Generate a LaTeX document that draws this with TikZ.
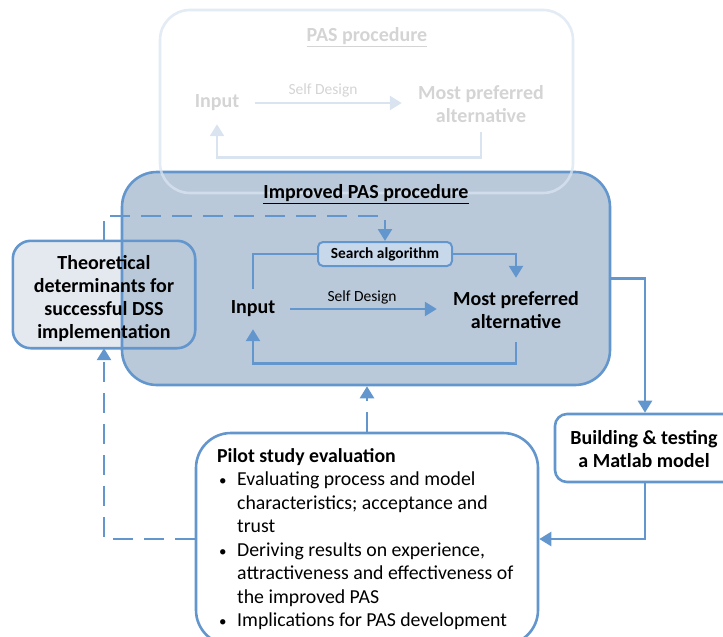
\documentclass[tikz,border=0pt]{standalone}
\usepackage{fontspec}
\setmainfont{Carlito}
\usetikzlibrary{arrows.meta,calc}

\definecolor{lineblue}{RGB}{99,150,205}
\definecolor{panelfill}{RGB}{185,201,218}
\definecolor{sidefill}{RGB}{228,233,239}
\definecolor{searchfill}{RGB}{200,216,235}
\definecolor{fadeline}{RGB}{218,228,240}
\definecolor{fadetext}{RGB}{212,212,212}

\newcommand{\ulbox}[1]{\underline{#1}}

\tikzset{
  conn/.style={draw=lineblue, line width=2.6pt},
  arr/.style={conn, -{Triangle[width=14pt,length=12pt]}},
  dasharr/.style={arr, dash pattern=on 20pt off 11pt},
  fadearr/.style={draw=fadeline, line width=2.6pt, -{Triangle[width=14pt,length=12pt]}},
  boxline/.style={draw=lineblue, line width=2.6pt},
  lbl/.style={inner sep=0pt, align=center, font=\fontsize{20}{23}\selectfont\bfseries},
  small/.style={inner sep=0pt, font=\fontsize{15.5}{17}\selectfont},
}

\begin{document}
\begin{tikzpicture}[x=1pt,y=-1pt]
\useasboundingbox (0,0) rectangle (723,637);
\clip (0,0) rectangle (723,637);

% side box with the theoretical determinants (fill first, border later)
\node[fill=sidefill, rounded corners=18pt, minimum width=182pt, minimum height=107pt,
      inner sep=0pt] (theory) at (104,294.5) {};

% improved procedure panel
\node[fill=panelfill, boxline, rounded corners=35pt, minimum width=488pt,
      minimum height=213pt, inner sep=0pt] (improved) at (366,278.5) {};
\draw[boxline, rounded corners=18pt] (theory.south west) rectangle (theory.north east);

% original procedure, faded, on top
\node[draw=fadeline, draw opacity=0.75, line width=2.6pt, rounded corners=30pt,
      minimum width=413pt, minimum height=183pt, inner sep=0pt] (oldbox) at (366.5,101.5) {};
\node[lbl, text=fadetext] (oldtitle) at (367,37) {\ulbox{PAS procedure}};
\node[lbl, text=fadetext, minimum width=76pt, minimum height=42pt] (oldin) at (217,103) {Input};
\node[lbl, text=fadetext, minimum width=158pt, minimum height=56pt] (oldmost) at (481,104)
      {Most preferred\\alternative};
\node[small, text=fadetext] (oldself) at (323,90) {Self Design};
\draw[fadearr] (oldin.east) -- (oldin.east -| oldmost.west);
\draw[fadearr] (oldmost.south) -- ++(0,25) -| (oldin.south);

% improved procedure content
\node[lbl] (imptitle) at (366,194) {\ulbox{Improved PAS procedure}};
\node[fill=searchfill, boxline, line width=2pt, rounded corners=5pt, minimum width=134pt,
      minimum height=24pt, inner sep=0pt, font=\fontsize{15.4}{17}\selectfont\bfseries]
      (search) at (385,254) {Search algorithm};
\node[lbl, minimum width=74pt, minimum height=40pt] (inp) at (253,309) {Input};
\node[lbl, minimum width=158pt, minimum height=64pt] (most) at (516,310)
      {Most preferred\\alternative};
\node[small] (selfd) at (362,297) {Self Design};
\draw[arr] (inp.east) -- (inp.east -| most.west);
\draw[conn] (inp.north) |- (search.west);
\draw[arr] (search.east) -| (most.north);
\draw[arr] (most.south) -- ++(0,21) -| (inp.south);

% side box text
\node[lbl] (theorytext) at (104,299) {Theoretical\\determinants for\\successful DSS\\implementation};

% model building box
\node[fill=white, boxline, rounded corners=12pt, minimum width=180pt, minimum height=68pt,
      inner sep=0pt] (matlab) at (645,448) {};
\node[lbl] (matlabtext) at (644,449) {Building \& testing\\a Matlab model};

% evaluation box
\node[fill=white, boxline, rounded corners=35pt, minimum width=342pt, minimum height=212pt,
      inner sep=0pt] (pilot) at (367,539) {};
\node[anchor=north west, align=left, inner sep=0pt, font=\fontsize{19.8}{23.5}\selectfont]
      (pilottext) at (217,448) {%
  \textbf{Pilot study evaluation}\\
  \makebox[20pt][l]{\hspace*{2pt}\fontsize{15}{15}\selectfont\textbullet}Evaluating process and model\\
  \hspace*{20pt}characteristics; acceptance and\\
  \hspace*{20pt}trust\\
  \makebox[20pt][l]{\hspace*{2pt}\fontsize{15}{15}\selectfont\textbullet}Deriving results on experience,\\
  \hspace*{20pt}attractiveness and effectiveness of\\
  \hspace*{20pt}the improved PAS\\
  \makebox[20pt][l]{\hspace*{2pt}\fontsize{15}{15}\selectfont\textbullet}Implications for PAS development};

% connectors between the boxes
\draw[dasharr] (theory.north) -- ++(0,-25) -| (search.north);
\draw[arr] (improved.east) -| (matlab.north);
\draw[arr] (matlab.south) |- (pilot.east);
\draw[dasharr] (pilot.north) -- (pilot.north |- improved.south);
\draw[dasharr] (pilot.west) -| (theory.south);
\end{tikzpicture}
\end{document}
